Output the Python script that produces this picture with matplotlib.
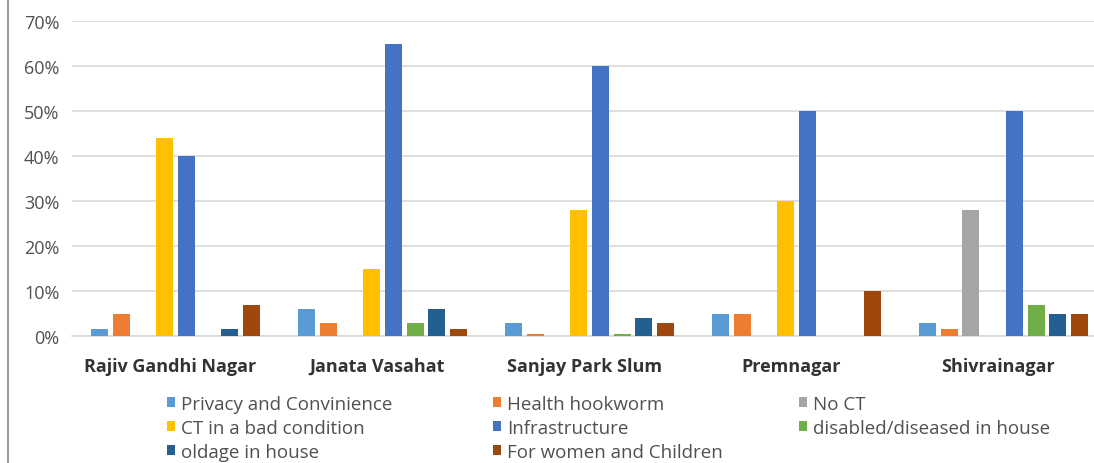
import matplotlib.pyplot as plt
import numpy as np
from matplotlib.lines import Line2D
from matplotlib.ticker import PercentFormatter

# reasons given per slum (share of households)
slums = ["Rajiv Gandhi Nagar", "Janata Vasahat", "Sanjay Park Slum", "Premnagar", "Shivrainagar"]
reasons = [
    "Privacy and Convinience",
    "Health hookworm",
    "No CT",
    "CT in a bad condition",
    "Infrastructure",
    "disabled/diseased in house",
    "oldage in house",
    "For women and Children",
]

privacy = [1.5, 6, 3, 5, 3]
hookworm = [5, 3, 0.5, 5, 1.5]
no_ct = [0, 0, 0, 0, 28]
ct_bad = [44, 15, 28, 30, 0]
infrastructure = [40, 65, 60, 50, 50]
disabled = [0, 3, 0.5, 0, 7]
oldage = [1.5, 6, 4, 0, 5]
women_children = [7, 1.5, 3, 10, 5]

series = [privacy, hookworm, no_ct, ct_bad, infrastructure, disabled, oldage, women_children]
colors = ["#5B9BD5", "#ED7D31", "#A5A5A5", "#FFC000", "#4472C4", "#70AD47", "#255E91", "#9E480E"]

plt.rcParams["font.family"] = ["Open Sans", "DejaVu Sans"]

fig = plt.figure(figsize=(10.94, 4.64), dpi=100)
ax = fig.add_axes([72 / 1094, 1 - 337 / 464, 1035 / 1094, 315 / 464])

x = np.arange(len(slums))
step = 0.105
width = 0.082
handles = []
for i, (vals, c) in enumerate(zip(series, colors)):
    offs = (i - 3.5) * step
    b = ax.bar(x + offs, np.array(vals) / 100, width=width, color=c, label=reasons[i], zorder=3)
    handles.append(b)

ax.set_xlim(-0.5, len(slums) - 0.5)
ax.set_ylim(0, 0.7)
ax.set_yticks(np.arange(0, 0.71, 0.1))
ax.yaxis.set_major_formatter(PercentFormatter(1.0, decimals=0))
ax.grid(axis="y", color="#D9D9D9", linewidth=1.2, zorder=0)
for s in ["top", "right", "left"]:
    ax.spines[s].set_visible(False)
ax.spines["bottom"].set_color("#D9D9D9")
ax.spines["bottom"].set_linewidth(1.2)
ax.tick_params(axis="y", length=0, pad=9, labelsize=13, labelcolor="#505050")
ax.tick_params(axis="x", length=0, pad=15)
ax.set_xticks(x - 0.025)
ax.set_xticklabels(slums, fontsize=13, fontweight="bold", color="#333333")

# legend laid out in three fixed columns
col_x = [167 / 1094, 493 / 1094, 799 / 1094]
cols = [[0, 3, 6], [1, 4, 7], [2, 5]]
for cx, idx in zip(col_x, cols):
    leg = fig.legend([handles[i] for i in idx], [reasons[i] for i in idx],
                     loc="upper left", bbox_to_anchor=(cx, 1 - 396 / 464),
                     frameon=False, fontsize=13.5, handlelength=0.45, handleheight=0.45,
                     handletextpad=0.3, labelspacing=0.32, borderaxespad=0, borderpad=0)
    for t in leg.get_texts():
        t.set_color("#505050")

fig.add_artist(Line2D([8 / 1094, 8 / 1094], [0, 1], transform=fig.transFigure, color="#9A9A9A", linewidth=1.5))

fig.savefig("out.png", dpi=100)
